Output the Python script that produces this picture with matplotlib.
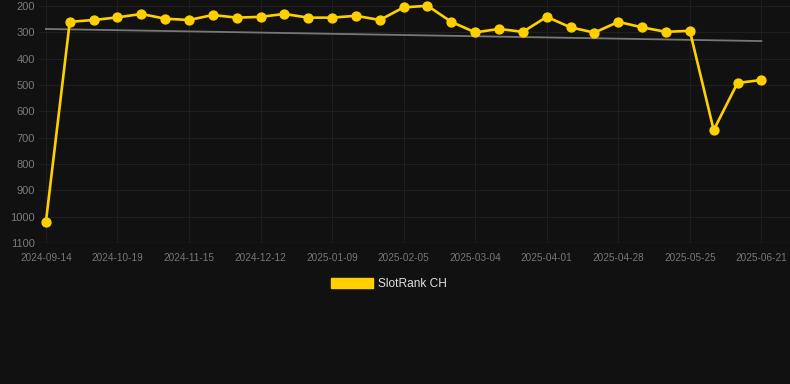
import matplotlib.pyplot as plt
import numpy as np
from matplotlib.patches import Patch

# rank per observation (lower is better, axis inverted)
ranks = [1020, 260, 253, 243, 230, 248, 253, 234, 244, 241,
         230, 244, 244, 237, 253, 205, 199, 260, 300, 287,
         298, 241, 281, 301, 260, 281, 298, 294, 671, 492, 481]
tick_labels = ['2024-09-14', '2024-10-19', '2024-11-15', '2024-12-12',
               '2025-01-09', '2025-02-05', '2025-03-04', '2025-04-01',
               '2025-04-28', '2025-05-25', '2025-06-21']
trend_ends = [287, 333]
series_name = 'SlotRank CH'

BG = '#111111'
YELLOW = '#FFD000'


def main():
    plt.rcParams['font.family'] = ['Liberation Sans', 'DejaVu Sans']
    fig = plt.figure(figsize=(7.9, 3.84), dpi=100, facecolor=BG)
    ax = fig.add_axes([39 / 790, 1 - 243 / 384, 1 - 39 / 790, 243 / 384])
    ax.set_facecolor(BG)

    x = np.arange(len(ranks))
    ax.plot([x[0], x[-1]], trend_ends, color='#777777', lw=1.3, zorder=2)
    ax.plot(x, ranks, color=YELLOW, lw=1.9, marker='o', ms=6.4,
            mfc=YELLOW, mec=YELLOW, zorder=3, clip_on=False)

    ax.set_xlim(-0.29, 31.2)
    ax.set_ylim(1100, 177)
    ax.set_yticks(range(200, 1101, 100))
    ax.set_xticks(x[::3])
    ax.set_xticklabels(tick_labels)

    ax.grid(True, color='#1e1e1e', lw=0.8)
    ax.set_axisbelow(True)
    for s in ax.spines.values():
        s.set_visible(False)
    ax.axhline(1100, color='#282828', lw=1, zorder=1)
    ax.tick_params(axis='x', colors='#777777', labelsize=7.2, length=0, pad=7)
    ax.tick_params(axis='y', colors='#7a7a7a', labelsize=8, length=0, pad=3)

    fig.legend(handles=[Patch(color=YELLOW)], labels=[series_name],
               loc='center', bbox_to_anchor=(389 / 790, 1 - 284 / 384),
               frameon=False, handlelength=3.5, handleheight=1.0,
               handletextpad=0.45, fontsize=8.6, labelcolor='#e0e0e0')

    fig.savefig('out.png', facecolor=BG)


if __name__ == '__main__':
    main()
